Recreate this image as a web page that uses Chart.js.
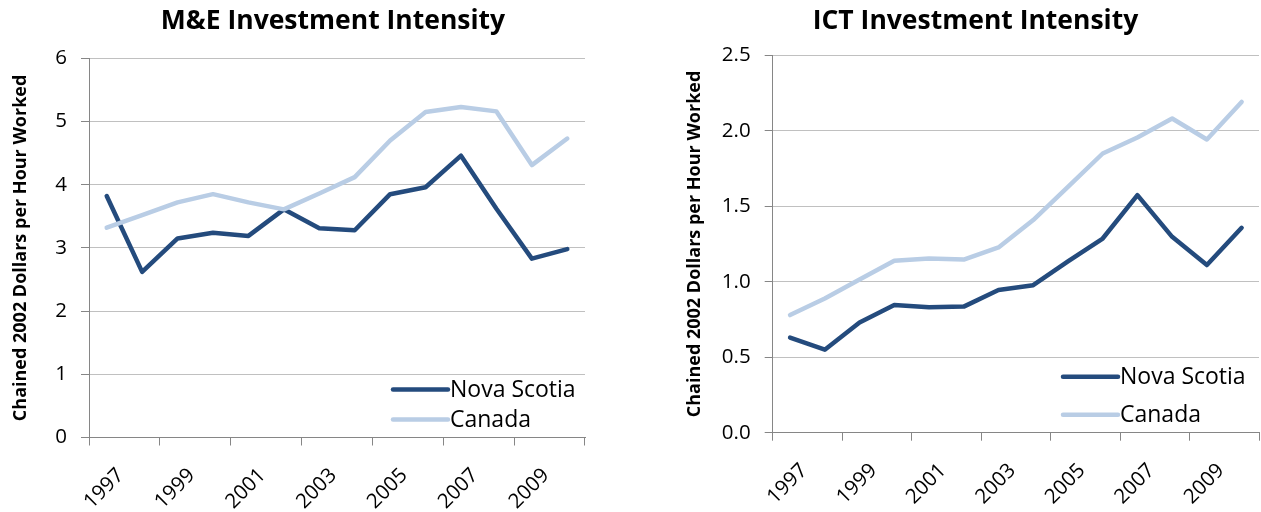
<!DOCTYPE html>
<html>
<head>
<meta charset="utf-8">
<script src="https://cdn.jsdelivr.net/npm/chart.js@4.4.1/dist/chart.umd.min.js"></script>
<style>
  html, body { margin: 0; padding: 0; background: #fff; }
  #wrap { position: relative; width: 1261px; height: 512px; overflow: hidden; }
  canvas { position: absolute; top: 0; }
  #meChart { left: 0; }
  #ictChart { left: 660px; }
</style>
</head>
<body>
<div id="wrap">
  <canvas id="meChart" width="666" height="512"></canvas>
  <canvas id="ictChart" width="631" height="512"></canvas>
</div>
<script>
const years = ['1997', '1998', '1999', '2000', '2001', '2002', '2003',
               '2004', '2005', '2006', '2007', '2008', '2009', '2010']
const seriesNames = ['Nova Scotia', 'Canada']

const meNovaScotia = [3.82, 2.62, 3.15, 3.24, 3.19, 3.61, 3.31, 3.28, 3.85, 3.96, 4.46, 3.62, 2.83, 2.98]
const meCanada     = [3.32, 3.52, 3.72, 3.85, 3.72, 3.61, 3.86, 4.12, 4.70, 5.15, 5.23, 5.16, 4.31, 4.73]

const ictNovaScotia = [0.63, 0.55, 0.73, 0.845, 0.83, 0.835, 0.945, 0.977, 1.135, 1.286, 1.573, 1.297, 1.11, 1.357]
const ictCanada     = [0.779, 0.889, 1.015, 1.139, 1.154, 1.147, 1.227, 1.408, 1.628, 1.849, 1.955, 2.081, 1.942, 2.19]

const meTicks  = { min: 0, max: 6, step: 1, digits: 0 }
const ictTicks = { min: 0, max: 2.5, step: 0.5, digits: 1 }

const yTitle = 'Chained 2002 Dollars per Hour Worked'
const darkBlue = '#244b7d'
const lightBlue = '#b9cde5'
const gridGrey = '#c0c0c0'
const axisGrey = '#868686'
const FONT = "'Open Sans', 'Noto Sans', sans-serif"

// legend drawn inside the plot, bottom right, Excel style
const lineKey = {
    id: 'lineKey',
    afterDatasetsDraw(chart, args, opts) {
        const { ctx, chartArea } = chart
        const x0 = chartArea.right - opts.fromRight
        const x1 = x0 + 55
        ctx.save()
        chart.data.datasets.forEach((ds, i) => {
            const y = chartArea.bottom - opts.rows[i]
            ctx.strokeStyle = ds.borderColor
            ctx.lineWidth = ds.borderWidth
            ctx.lineCap = 'round'
            ctx.beginPath()
            ctx.moveTo(x0, y)
            ctx.lineTo(x1, y)
            ctx.stroke()
            ctx.fillStyle = '#000'
            ctx.font = `23px ${FONT}`
            ctx.textBaseline = 'middle'
            ctx.textAlign = 'left'
            ctx.fillText(ds.label, x1 + 2, y + 1)
        })
        ctx.restore()
    }
}

function makeChart(id, title, nsValues, caValues, yt, lay) {
    new Chart(document.getElementById(id), {
        type: 'line',
        data: {
            labels: years,
            datasets: [
                { label: seriesNames[0], data: nsValues, borderColor: darkBlue, borderWidth: 4.5, order: 1 },
                { label: seriesNames[1], data: caValues, borderColor: lightBlue, borderWidth: 4.5, order: 0 }
            ]
        },
        options: {
            responsive: false,
            animation: false,
            layout: { padding: 0 },
            elements: {
                point: { radius: 0, hoverRadius: 0 },
                line: { tension: 0, borderCapStyle: 'round', borderJoinStyle: 'round' }
            },
            scales: {
                x: {
                    type: 'category',
                    offset: true,
                    afterFit: s => { s.height = lay.xHeight },
                    grid: {
                        offset: true,
                        drawOnChartArea: false,
                        tickLength: 8,
                        tickColor: ctx => (ctx.index % 2 ? 'transparent' : axisGrey)
                    },
                    border: { color: axisGrey, width: 1 },
                    ticks: {
                        autoSkip: false,
                        minRotation: 45,
                        maxRotation: 45,
                        padding: 18,
                        labelOffset: 14,
                        color: '#000',
                        font: { family: FONT, size: 20.5 },
                        callback: (v, i) => (i % 2 === 0 ? years[i] : '')
                    }
                },
                y: {
                    min: yt.min,
                    max: yt.max,
                    afterFit: s => { s.width = lay.yWidth },
                    grid: { color: gridGrey, tickColor: axisGrey, tickLength: 8, lineWidth: 1 },
                    border: { color: axisGrey, width: 1 },
                    ticks: {
                        stepSize: yt.step,
                        padding: 14,
                        color: '#000',
                        font: { family: FONT, size: 20.5 },
                        callback: v => v.toFixed(yt.digits)
                    },
                    title: {
                        display: true,
                        text: yTitle,
                        color: '#000',
                        font: { family: FONT, size: 18, weight: 'bold' },
                        padding: { top: lay.yTitlePad, bottom: 0 }
                    }
                },
                // empty right-hand axis, only reserves the margin right of the plot
                gap: {
                    type: 'linear',
                    position: 'right',
                    grid: { display: false },
                    border: { display: false },
                    ticks: { display: false },
                    afterFit: s => { s.width = lay.rightGap }
                }
            },
            plugins: {
                legend: { display: false },
                tooltip: { enabled: false },
                title: {
                    display: true,
                    text: title,
                    color: '#000',
                    font: { family: FONT, size: 26.5, weight: 'bold' },
                    padding: { top: 6, bottom: lay.titleBottom }
                },
                lineKey: { fromRight: lay.keyRight, rows: lay.keyRows }
            }
        },
        plugins: [lineKey]
    })
}

makeChart('meChart', 'M&E Investment Intensity', meNovaScotia, meCanada, meTicks,
    { rightGap: 81, xHeight: 74.5, yWidth: 89, yTitlePad: 10, titleBottom: 20.5, keyRight: 192, keyRows: [48, 18] })

makeChart('ictChart', 'ICT Investment Intensity', ictNovaScotia, ictCanada, ictTicks,
    { rightGap: 32, xHeight: 79.3, yWidth: 112.7, yTitlePad: 24, titleBottom: 17.4, keyRight: 196, keyRows: [56, 18] })
</script>
</body>
</html>
